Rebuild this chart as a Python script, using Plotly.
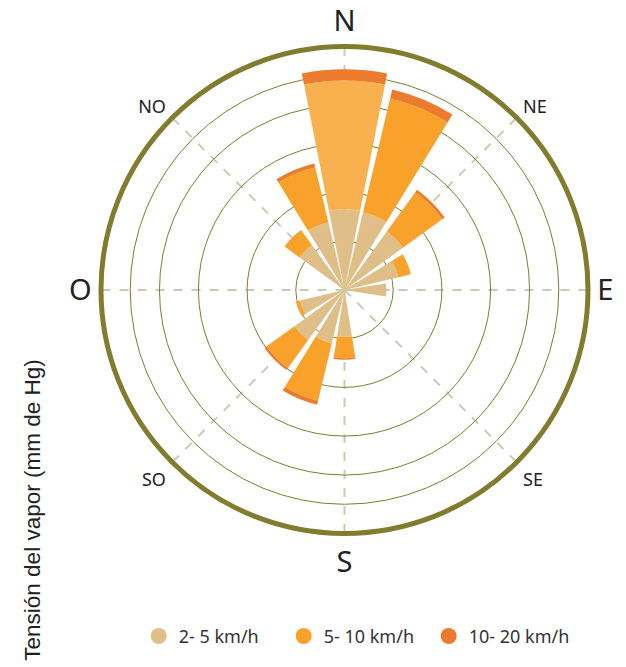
import plotly.graph_objects as go

directions = ["N", "NNE", "NE", "ENE", "E", "ESE", "SE", "SSE",
              "S", "SSO", "SO", "OSO", "O", "ONO", "NO", "NNO"]
angles = [0, 22.5, 45, 67.5, 90, 112.5, 135, 157.5,
          180, 202.5, 225, 247.5, 270, 292.5, 315, 337.5]

speed_2_5 = [8.3, 8.2, 7.4, 5.7, 4.3, 0, 0, 0, 4.8, 5.65, 6.35, 4.7, 0, 0, 5.7, 7.15]
speed_5_10 = [13.2, 12.0, 5.0, 1.3, 0, 0, 0, 0, 2.2, 6.05, 3.55, 0.45, 0, 0, 1.9, 5.8]
speed_10_20 = [1.15, 0.95, 0.3, 0, 0, 0, 0, 0, 0.15, 0.4, 0.25, 0, 0, 0, 0, 0.4]

series_names = ["2- 5 km/h", "5- 10 km/h", "10- 20 km/h"]
series_colors = ["#E0BE88", "#F9A22B", "#EC7B2E"]

grid_ticks = [5, 10, 15, 19, 22]
radial_max = 25

grid_angles = [0, 45, 90, 135, 180, 225, 270, 315]
minor_vals = [45, 135, 225, 315]
minor_text = ["NE", "SE", "SO", "NO"]
major_vals = [0, 90, 180, 270]
major_text = ["N", "E", "S", "O"]

# highlighted (hovered) N sector is slightly wider and lighter
bar_widths = [22.3 if d == "N" else 18.2 for d in directions]
mid_colors = ["#F9B150" if d == "N" else series_colors[1] for d in directions]

fig = go.Figure()
for vals, name, col in [(speed_2_5, series_names[0], series_colors[0]),
                        (speed_5_10, series_names[1], mid_colors),
                        (speed_10_20, series_names[2], series_colors[2])]:
    fig.add_trace(go.Barpolar(r=vals, theta=angles, width=bar_widths, name=name,
                              marker=dict(color=col, line=dict(width=0)),
                              showlegend=False, hoverinfo="skip", subplot="polar"))

# legend proxies with circle symbols (placed on the overlay subplot for the cardinal labels)
for name, col in zip(series_names, series_colors):
    fig.add_trace(go.Scatterpolar(r=[None], theta=[None], mode="markers", name=name,
                                  marker=dict(color=col, size=20, symbol="circle"),
                                  showlegend=True, subplot="polar2"))

olive = "#827C2E"
dom = dict(x=[101 / 626, 588 / 626], y=[133.5 / 667, 620.5 / 667])
fig.update_layout(
    width=626, height=667,
    margin=dict(l=0, r=0, t=0, b=0),
    paper_bgcolor="white",
    plot_bgcolor="white",
    font=dict(family="Noto Sans", color="#222222"),
    polar=dict(
        domain=dom,
        bgcolor="rgba(0,0,0,0)",
        bargap=0,
        barmode="stack",
        radialaxis=dict(range=[0, radial_max], tickvals=grid_ticks, showticklabels=False,
                        ticks="", showline=False, gridcolor=olive, gridwidth=1.3,
                        layer="above traces"),
        angularaxis=dict(rotation=90, direction="clockwise", tickvals=grid_angles,
                         ticktext=["" if a in major_vals else minor_text[minor_vals.index(a)]
                                   for a in grid_angles],
                         tickfont=dict(size=18, color="#222222"),
                         ticks="outside", ticklen=3, tickcolor="rgba(0,0,0,0)",
                         showline=True, linecolor=olive, linewidth=5,
                         gridcolor="#C9CCB4", gridwidth=2, griddash="dash",
                         layer="above traces"),
    ),
    polar2=dict(
        domain=dom,
        bgcolor="rgba(0,0,0,0)",
        radialaxis=dict(visible=False, range=[0, radial_max]),
        angularaxis=dict(rotation=90, direction="clockwise", tickvals=major_vals,
                         ticktext=major_text, tickfont=dict(size=29, color="#222222"),
                         ticks="outside", ticklen=3, tickcolor="rgba(0,0,0,0)",
                         showline=False, showgrid=False),
    ),
    legend=dict(orientation="h", x=0.569, xanchor="center", y=0.046, yanchor="middle",
                font=dict(size=18, color="#333333", family="Noto Sans"),
                itemsizing="trace", bgcolor="rgba(0,0,0,0)", entrywidth=100),
    annotations=[dict(text="Tensión del vapor (mm de Hg)", textangle=-90,
                      x=31.7 / 626, y=(667 - 510) / 667, xref="paper", yref="paper",
                      showarrow=False, xanchor="center", yanchor="middle",
                      font=dict(size=22.5, color="#222222", family="Liberation Sans"))],
)

fig.write_html("out.html", config={"displayModeBar": False},
               post_script="document.body.style.margin='0';")
